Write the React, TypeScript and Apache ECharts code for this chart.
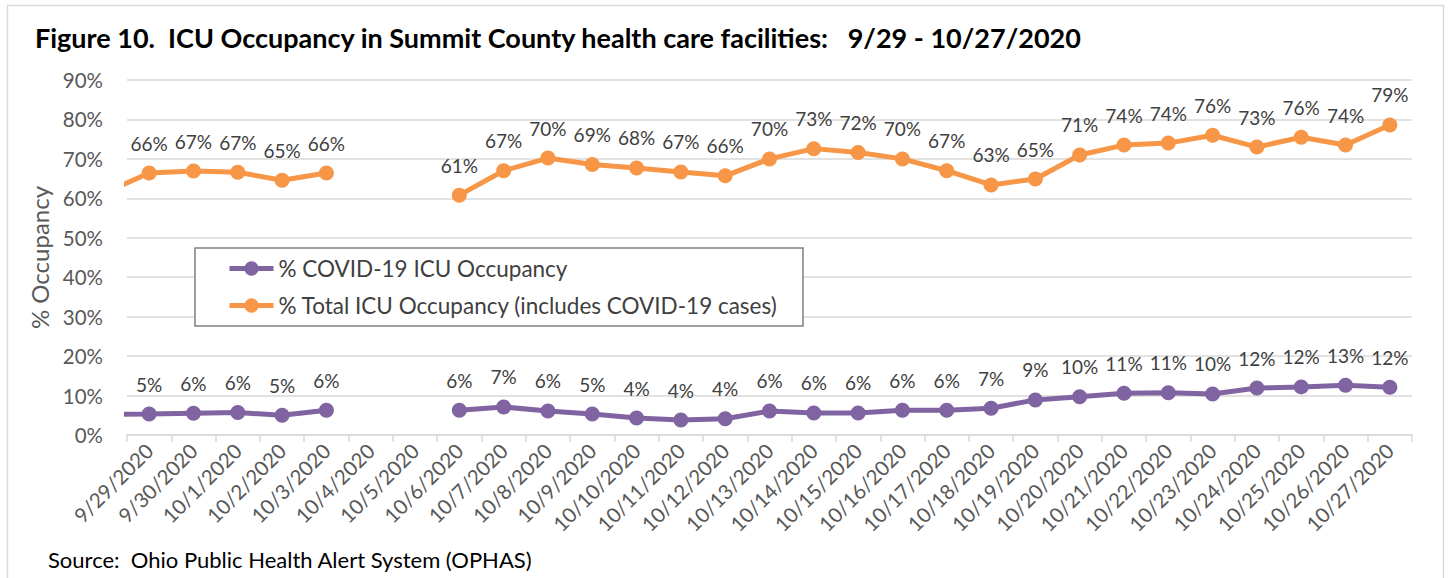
import React, { useEffect, useRef } from "react";
import * as echarts from "echarts";

const categories = [
  "9/29/2020", "9/30/2020", "10/1/2020", "10/2/2020", "10/3/2020", "10/4/2020", "10/5/2020",
  "10/6/2020", "10/7/2020", "10/8/2020", "10/9/2020", "10/10/2020", "10/11/2020", "10/12/2020",
  "10/13/2020", "10/14/2020", "10/15/2020", "10/16/2020", "10/17/2020", "10/18/2020", "10/19/2020",
  "10/20/2020", "10/21/2020", "10/22/2020", "10/23/2020", "10/24/2020", "10/25/2020", "10/26/2020",
  "10/27/2020",
];

// value of the preceding day (9/28), whose segment enters from the left edge
const leadInTotal = 61.4;
const leadInCovid = 5.2;

const totalICU: (number | null)[] = [
  66.4, 66.9, 66.6, 64.6, 66.4, null, null,
  60.8, 67.0, 70.2, 68.6, 67.7, 66.7, 65.7,
  70.0, 72.6, 71.6, 70.0, 67.0, 63.4, 64.9,
  71.0, 73.5, 74.0, 76.0, 73.0, 75.5, 73.5,
  78.6,
];

const covidICU: (number | null)[] = [
  5.3, 5.5, 5.7, 5.0, 6.3, null, null,
  6.3, 7.1, 6.1, 5.3, 4.3, 3.8, 4.1,
  6.1, 5.6, 5.6, 6.3, 6.3, 6.8, 8.9,
  9.7, 10.6, 10.7, 10.4, 11.9, 12.2, 12.6,
  12.1,
];

const yTicks = [0, 10, 20, 30, 40, 50, 60, 70, 80, 90];

const FONT = "Lato, 'Open Sans', sans-serif";
const ORANGE = "#f79646";
const PURPLE = "#8064a2";

function buildData(lead: number, values: (number | null)[]) {
  const out: any[] = [
    { value: [-1, lead], symbol: "none", label: { show: false } },
  ];
  values.forEach((v, i) => {
    out.push({ value: [i, v === null ? "-" : v] });
  });
  return out;
}

export default function App() {
  const ref = useRef<HTMLDivElement>(null);
  useEffect(() => {
    if (!ref.current) return;
    const chart = echarts.init(ref.current, null, { renderer: "svg" });
    const labelCfg = {
      show: true,
      position: "top" as const,
      distance: 13,
      fontSize: 19,
      fontFamily: FONT,
      color: "#404040",
      formatter: (p: any) => Math.round(p.value[1]) + "%",
    };
    chart.setOption({
      animation: false,
      backgroundColor: "#ffffff",
      title: {
        text: "Figure 10.\u00a0 ICU Occupancy in Summit County health care facilities:\u00a0\u00a0 9/29 - 10/27/2020",
        left: 35,
        top: 24,
        padding: 0,
        textStyle: { fontFamily: FONT, fontSize: 27, fontWeight: "bold", color: "#000000" },
      },
      graphic: [
        {
          type: "rect",
          shape: { x: 7.5, y: 5.5, width: 1436, height: 600 },
          style: { fill: "none", stroke: "#d9d9d9", lineWidth: 1.5 },
          silent: true,
        },
        {
          type: "text",
          left: 48,
          top: 548,
          style: {
            text: "Source:\u00a0 Ohio Public Health Alert System (OPHAS)",
            fontFamily: FONT,
            fontSize: 22,
            fill: "#000000",
          },
        },
      ],
      legend: {
        orient: "vertical",
        left: 195,
        top: 248,
        padding: [9, 25, 9, 32],
        itemGap: 14,
        itemWidth: 44,
        itemHeight: 18,
        borderColor: "#808080",
        borderWidth: 1.5,
        backgroundColor: "#ffffff",
        lineStyle: { width: 5 },
        textStyle: { fontFamily: FONT, fontSize: 22.5, color: "#404040" },
        data: ["% COVID-19 ICU Occupancy", "% Total ICU Occupancy (includes COVID-19 cases)"],
      },
      grid: { left: 127, right: 36, top: 80, bottom: 143, containLabel: false },
      xAxis: [
        {
          type: "category",
          data: categories,
          boundaryGap: true,
          axisLine: { lineStyle: { color: "#d9d9d9", width: 1.5 } },
          axisTick: { show: true, length: 7, lineStyle: { color: "#d9d9d9", width: 1.5 } },
          axisLabel: {
            rotate: 45,
            interval: 0,
            margin: 12,
            fontFamily: FONT,
            fontSize: 20.5,
            color: "#595959",
          },
        },
        {
          type: "value",
          min: -0.5,
          max: 28.5,
          show: false,
        },
      ],
      yAxis: {
        type: "value",
        min: 0,
        max: 90,
        interval: 10,
        name: "% Occupancy",
        nameLocation: "middle",
        nameGap: 76,
        nameTextStyle: { fontFamily: FONT, fontSize: 24, color: "#595959" },
        axisLine: { show: false },
        axisTick: { show: false },
        axisLabel: {
          margin: 24,
          fontFamily: FONT,
          fontSize: 20.5,
          color: "#595959",
          formatter: (v: number) => (yTicks.includes(v) ? v + "%" : ""),
        },
        splitLine: { lineStyle: { color: "#d9d9d9", width: 1.5 } },
      },
      series: [
        {
          name: "% COVID-19 ICU Occupancy",
          type: "line",
          xAxisIndex: 1,
          data: buildData(leadInCovid, covidICU),
          clip: true,
          connectNulls: false,
          symbol: "circle",
          symbolSize: 15,
          lineStyle: { color: PURPLE, width: 5 },
          itemStyle: { color: PURPLE },
          label: labelCfg,
        },
        {
          name: "% Total ICU Occupancy (includes COVID-19 cases)",
          type: "line",
          xAxisIndex: 1,
          data: buildData(leadInTotal, totalICU),
          clip: true,
          connectNulls: false,
          symbol: "circle",
          symbolSize: 15,
          lineStyle: { color: ORANGE, width: 5 },
          itemStyle: { color: ORANGE },
          label: labelCfg,
        },
      ],
    });
    return () => chart.dispose();
  }, []);
  return (
    <div
      ref={ref}
      style={{ position: "fixed", left: 0, top: 0, width: 1448, height: 578 }}
    />
  );
}
